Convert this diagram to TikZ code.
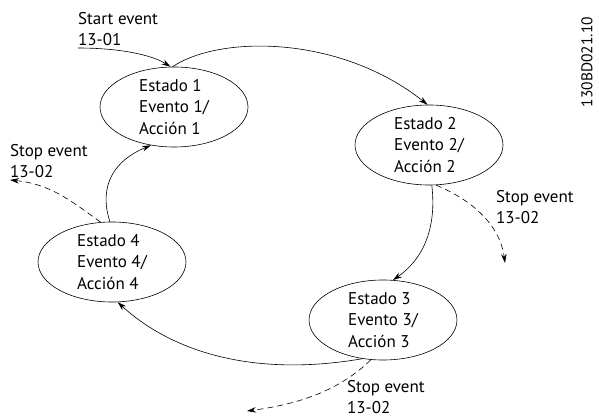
\documentclass[tikz,border=0pt]{standalone}
\usepackage{fontspec}
\setmainfont{PT Sans}
\usetikzlibrary{arrows.meta,shapes.geometric}
\begin{document}
\begin{tikzpicture}[x=1pt,y=-1pt,
  state/.style={ellipse,draw,line width=0.6pt,minimum width=148pt,minimum height=80pt,inner sep=0pt,align=left,font=\fontsize{17}{21.5}\selectfont},
  lbl/.style={align=left,anchor=west,inner sep=0pt,font=\fontsize{17}{21.5}\selectfont},
  conn/.style={line width=0.6pt,-{Stealth[length=9pt,width=5.5pt]}},
  stopc/.style={conn,dash pattern=on 6pt off 4pt}]
\useasboundingbox (0,0) rectangle (599,419);
\node[state] (s1) at (174,107) {Estado 1\\Evento 1/\\Acción 1};
\node[state] (s2) at (429,145) {Estado 2\\Evento 2/\\Acción 2};
\node[state] (s3) at (383,320) {Estado 3\\Evento 3/\\Acción 3};
\node[state] (s4) at (112,262) {Estado 4\\Evento 4/\\Acción 4};
\node[lbl] (tstart) at (78,29) {Start event\\13-01};
\node[lbl] (tstop2) at (496,207) {Stop event\\13-02};
\node[lbl] (tstop4) at (10,161) {Stop event\\13-02};
\node[lbl] (tstop3) at (347,397) {Stop event\\13-02};
\node[rotate=90,font=\fontsize{15.5}{18}\selectfont,inner sep=0pt] (code) at (587,62) {130BD021.10};
\coordinate (st0) at (78,48);
\coordinate (e2) at (505,263);
\coordinate (e3) at (247,411);
\coordinate (e4) at (10,180);
\draw[conn] (st0) .. controls (120,48) and (152,55) .. (s1.95);
\draw[conn] (s1.92) .. controls (220,35) and (340,35) .. (s2.92);
\draw[conn] (s2.-86) .. controls (437,230) and (422,260) .. (s3.76);
\draw[stopc] (s2.-80) .. controls (472,200) and (500,225) .. (e2);
\draw[conn] (s3.-118) .. controls (250,378) and (170,350) .. (s4.-82);
\draw[stopc] (s3.-107) .. controls (340,390) and (300,404) .. (e3);
\draw[conn] (s4.93) .. controls (98,185) and (115,160) .. (s1.-121);
\draw[stopc] (s4.106) .. controls (70,200) and (50,184) .. (e4);
\end{tikzpicture}
\end{document}
